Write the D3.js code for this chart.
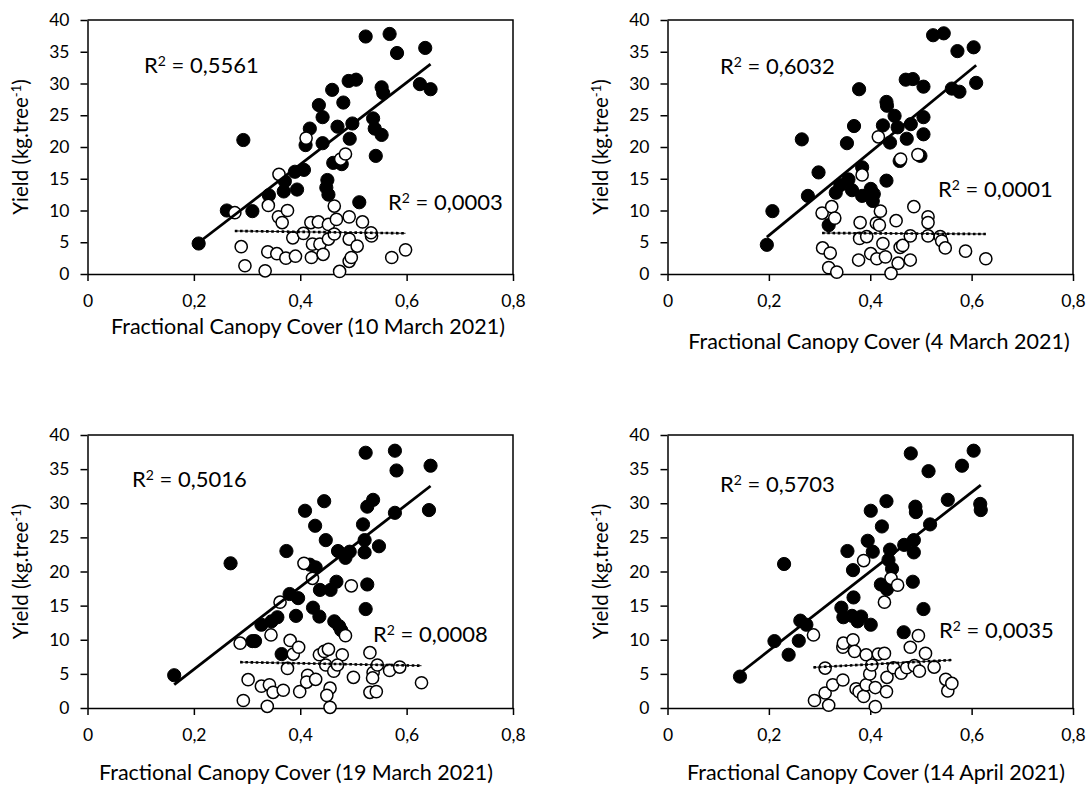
<!DOCTYPE html>
<html>
<head>
<meta charset="utf-8">
<script src="https://cdn.jsdelivr.net/npm/d3@7"></script>
<style>
  html, body { margin: 0; padding: 0; background: #fff; }
  svg { display: block; font-family: Lato, "Open Sans", sans-serif; }
</style>
</head>
<body>
<svg id="chart" width="1089" height="786"></svg>
<script>
// Yield (kg per tree) against fractional canopy cover on four image dates.
// Filled markers and open markers are two groups of trees; each group has a linear fit.

const xTicks = [0, 0.2, 0.4, 0.6, 0.8];
const yTicks = [0, 5, 10, 15, 20, 25, 30, 35, 40];

const dateLabels = ["10 March 2021", "4 March 2021", "19 March 2021", "14 April 2021"];
const r2Solid = ["0,5561", "0,6032", "0,5016", "0,5703"];
const r2Open = ["0,0003", "0,0001", "0,0008", "0,0035"];

// linear fits: [slope, intercept]
const fitSolid = [[64.4, -8.5], [65.5, -7.02], [60.4, -6.43], [58.0, -3.2]];
const fitOpen = [[-1.15, 7.1], [-0.5, 6.61], [-1.53, 7.16], [3.94, 4.82]];

// [canopy cover, yield]
const mar10Solid = [[0.209,4.8],[0.262,10.0],[0.293,21.1],[0.31,9.9],[0.341,12.4],[0.369,13.0],[0.371,14.6],[0.394,13.3],[0.39,16.1],[0.407,16.4],[0.41,20.3],[0.418,22.9],[0.435,26.6],[0.442,24.7],[0.442,20.6],[0.46,29.0],[0.451,14.8],[0.449,13.6],[0.453,12.5],[0.481,27.0],[0.47,23.2],[0.462,17.5],[0.478,17.3],[0.493,21.3],[0.498,23.7],[0.491,30.4],[0.505,30.6],[0.523,37.4],[0.568,37.8],[0.582,34.8],[0.635,35.6],[0.553,29.4],[0.556,28.5],[0.537,24.5],[0.54,22.9],[0.553,21.9],[0.542,18.6],[0.511,11.3],[0.625,29.9],[0.645,29.1]];
const mar10Open = [[0.277,9.65],[0.289,4.3],[0.296,1.3],[0.334,0.5],[0.339,3.5],[0.356,3.2],[0.373,2.5],[0.391,2.8],[0.34,10.8],[0.36,15.7],[0.359,9.0],[0.376,10.0],[0.366,8.1],[0.386,5.7],[0.406,6.4],[0.411,21.4],[0.42,8.1],[0.434,8.2],[0.453,7.8],[0.421,2.6],[0.423,4.7],[0.437,4.7],[0.443,3.1],[0.453,5.5],[0.464,6.3],[0.464,10.7],[0.468,8.6],[0.474,0.4],[0.492,2.0],[0.496,2.6],[0.492,5.5],[0.507,4.4],[0.492,9.0],[0.517,8.2],[0.534,6.0],[0.533,6.5],[0.572,2.6],[0.598,3.8],[0.476,18.1],[0.485,18.9]];

const mar04Solid = [[0.196,4.6],[0.207,9.9],[0.265,21.2],[0.277,12.3],[0.298,16.0],[0.318,7.7],[0.332,12.8],[0.341,14.0],[0.357,14.9],[0.364,13.2],[0.354,20.6],[0.368,23.3],[0.378,29.1],[0.384,16.8],[0.384,12.3],[0.401,13.4],[0.407,12.6],[0.405,11.5],[0.425,23.4],[0.432,14.7],[0.432,27.1],[0.433,26.5],[0.439,20.7],[0.448,24.9],[0.454,23.1],[0.458,17.8],[0.47,30.6],[0.484,30.7],[0.472,21.3],[0.48,23.6],[0.505,29.5],[0.505,24.7],[0.505,22.0],[0.499,18.6],[0.524,37.6],[0.545,37.9],[0.561,29.2],[0.576,28.7],[0.572,35.1],[0.604,35.7],[0.609,30.1]];
const mar04Open = [[0.305,9.6],[0.324,10.6],[0.33,8.8],[0.306,4.1],[0.321,3.3],[0.318,1.0],[0.334,0.3],[0.377,2.2],[0.38,8.1],[0.379,5.6],[0.384,15.6],[0.393,5.9],[0.401,3.2],[0.413,2.4],[0.412,8.0],[0.418,7.7],[0.42,9.9],[0.416,21.6],[0.425,4.8],[0.43,2.7],[0.441,0.1],[0.451,8.4],[0.455,1.7],[0.459,4.2],[0.464,4.5],[0.46,18.1],[0.479,2.2],[0.479,6.0],[0.486,10.6],[0.494,18.8],[0.514,9.0],[0.514,8.1],[0.514,6.0],[0.538,5.9],[0.541,5.2],[0.548,4.1],[0.588,3.6],[0.628,2.4]];

const mar19Solid = [[0.163,4.8],[0.269,21.2],[0.31,9.8],[0.315,9.8],[0.327,12.2],[0.346,12.7],[0.357,13.3],[0.365,7.9],[0.374,23.0],[0.38,16.7],[0.396,16.1],[0.392,13.5],[0.409,28.9],[0.418,21.0],[0.429,20.6],[0.424,14.7],[0.436,13.4],[0.428,26.7],[0.445,30.3],[0.448,24.6],[0.437,17.3],[0.457,17.3],[0.468,18.5],[0.464,12.7],[0.473,12.0],[0.477,11.4],[0.471,23.0],[0.485,22.0],[0.493,22.9],[0.518,26.9],[0.521,24.6],[0.521,22.8],[0.526,18.1],[0.523,14.5],[0.523,37.4],[0.526,29.5],[0.537,30.5],[0.548,23.7],[0.578,37.7],[0.581,34.8],[0.578,28.6],[0.645,35.5],[0.642,29.0]];
const mar19Open = [[0.287,9.5],[0.293,1.1],[0.302,4.15],[0.327,3.2],[0.338,0.25],[0.342,3.4],[0.349,2.3],[0.368,2.6],[0.345,10.7],[0.362,15.5],[0.376,5.8],[0.381,9.9],[0.387,7.9],[0.397,8.9],[0.399,2.4],[0.407,21.2],[0.414,4.8],[0.412,3.8],[0.423,19.0],[0.429,4.2],[0.436,7.8],[0.445,8.3],[0.453,8.6],[0.448,6.3],[0.463,5.4],[0.456,2.9],[0.45,1.85],[0.456,0.1],[0.479,7.8],[0.47,6.3],[0.485,10.6],[0.496,17.9],[0.5,4.5],[0.531,8.1],[0.537,5.2],[0.536,4.4],[0.545,6.3],[0.531,2.3],[0.543,2.4],[0.568,5.5],[0.587,6.0],[0.628,3.7]];

const apr14Solid = [[0.143,4.6],[0.23,21.1],[0.211,9.8],[0.239,7.8],[0.259,9.85],[0.262,12.8],[0.274,12.2],[0.343,14.7],[0.347,13.3],[0.355,23.0],[0.366,20.2],[0.367,16.2],[0.364,13.5],[0.375,12.7],[0.382,13.4],[0.401,12.2],[0.395,24.5],[0.405,22.9],[0.401,28.9],[0.423,26.6],[0.421,18.1],[0.433,17.4],[0.432,30.3],[0.439,23.2],[0.436,21.7],[0.443,20.4],[0.466,11.1],[0.467,23.9],[0.486,24.6],[0.486,22.8],[0.484,18.5],[0.48,37.3],[0.489,29.5],[0.49,28.7],[0.505,14.5],[0.518,26.9],[0.515,34.7],[0.553,30.5],[0.581,35.5],[0.604,37.7],[0.617,29.9],[0.618,29.0]];
const apr14Open = [[0.288,10.7],[0.29,1.1],[0.311,5.85],[0.311,2.2],[0.318,0.4],[0.326,3.4],[0.346,4.1],[0.346,8.9],[0.347,9.5],[0.366,10.0],[0.369,8.3],[0.372,2.8],[0.378,2.4],[0.387,21.6],[0.387,1.7],[0.392,7.8],[0.392,3.4],[0.399,5.0],[0.403,6.3],[0.41,3.0],[0.41,0.2],[0.416,7.9],[0.428,15.5],[0.432,2.4],[0.433,4.5],[0.428,8.0],[0.441,19.0],[0.446,5.9],[0.454,18.0],[0.461,5.1],[0.472,5.9],[0.479,8.9],[0.487,6.2],[0.495,10.6],[0.497,5.4],[0.509,8.0],[0.526,6.0],[0.549,4.2],[0.553,2.5],[0.561,3.6]];

const solidSets = [mar10Solid, mar04Solid, mar19Solid, apr14Solid];
const openSets = [mar10Open, mar04Open, mar19Open, apr14Open];

// panel geometry
const layout = [
  { x0: 87.5, x1: 513, yTop: 20, yBot: 274, titleX: 308, titleY: 334, yTitleX: 28,
    r2a: [144, 73], r2b: [388, 210] },
  { x0: 667.5, x1: 1073, yTop: 20, yBot: 274, titleX: 879, titleY: 349, yTitleX: 608,
    r2a: [720, 74], r2b: [938, 197] },
  { x0: 87.5, x1: 513, yTop: 435, yBot: 708, titleX: 296, titleY: 780, yTitleX: 28,
    r2a: [132, 487], r2b: [373, 642] },
  { x0: 667.5, x1: 1073, yTop: 435, yBot: 708, titleX: 876, titleY: 780, yTitleX: 608,
    r2a: [720, 492], r2b: [939, 638] }
];

const locale = d3.formatLocale({ decimal: ",", thousands: ".", grouping: [3], currency: ["", ""] });
const fmtX = d => d === 0 ? "0" : locale.format(".1f")(d);

const svg = d3.select("#chart");
const R = 6.6;

layout.forEach((L, i) => {
  const x = d3.scaleLinear().domain([0, 0.8]).range([L.x0, L.x1]);
  const y = d3.scaleLinear().domain([0, 40]).range([L.yBot, L.yTop]);
  const g = svg.append("g");

  // plot frame (top and right sides)
  g.append("path")
    .attr("d", `M${L.x0},${L.yTop}H${L.x1}V${L.yBot}`)
    .attr("fill", "none").attr("stroke", "#000").attr("stroke-width", 1.5);

  const xAxis = g.append("g").attr("transform", `translate(0,${L.yBot})`)
    .call(d3.axisBottom(x).tickValues(xTicks).tickFormat(fmtX).tickSize(7).tickPadding(14).tickSizeOuter(0));
  const yAxis = g.append("g").attr("transform", `translate(${L.x0},0)`)
    .call(d3.axisLeft(y).tickValues(yTicks).tickSize(7).tickPadding(11).tickSizeOuter(0));
  [xAxis, yAxis].forEach(a => {
    a.select(".domain").attr("stroke", "#000").attr("stroke-width", 1.5);
    a.selectAll(".tick line").attr("stroke", "#000").attr("stroke-width", 1.5);
    a.selectAll(".tick text").attr("fill", "#000").style("font-size", "17.5px").style("font-family", "Lato");
  });

  // markers
  g.append("g").selectAll("circle").data(solidSets[i]).join("circle")
    .attr("cx", d => x(d[0])).attr("cy", d => y(d[1])).attr("r", R)
    .attr("fill", "#000").attr("stroke", "#000").attr("stroke-width", 1);
  g.append("g").selectAll("circle").data(openSets[i]).join("circle")
    .attr("cx", d => x(d[0])).attr("cy", d => y(d[1])).attr("r", R - 0.5)
    .attr("fill", "#fff").attr("stroke", "#000").attr("stroke-width", 1.5);

  // fitted lines over the extent of each group
  const fitLine = (pts, f) => {
    const ext = d3.extent(pts, d => d[0]);
    return ext.map(v => [x(v), y(f[0] * v + f[1])]);
  };
  const line = d3.line();
  g.append("path").attr("d", line(fitLine(solidSets[i], fitSolid[i])))
    .attr("stroke", "#000").attr("stroke-width", 2.8).attr("fill", "none");
  const op = fitLine(openSets[i], fitOpen[i]);
  g.append("path").attr("d", line(op))
    .attr("stroke", "#000").attr("stroke-width", 0.9).attr("fill", "none");
  g.append("path").attr("d", line(op))
    .attr("stroke", "#000").attr("stroke-width", 2.6).attr("fill", "none")
    .attr("stroke-dasharray", "2.6,2.6");

  // R² labels
  const r2 = (pos, val) => {
    const t = g.append("text").attr("x", pos[0]).attr("y", pos[1])
      .style("font-size", "22px").style("font-family", "Lato").attr("fill", "#000");
    t.append("tspan").text("R");
    t.append("tspan").attr("dy", -7).style("font-size", "14px").text("2");
    t.append("tspan").attr("dy", 7).text(` = ${val}`);
  };
  r2(L.r2a, r2Solid[i]);
  r2(L.r2b, r2Open[i]);

  // axis titles
  g.append("text").attr("x", L.titleX).attr("y", L.titleY).attr("text-anchor", "middle")
    .style("font-size", "21.5px").attr("fill", "#000")
    .text(`Fractional Canopy Cover (${dateLabels[i]})`);
  const yt = g.append("text")
    .attr("transform", `translate(${L.yTitleX},${(L.yTop + L.yBot) / 2}) rotate(-90)`)
    .attr("text-anchor", "middle").style("font-size", "20.5px").attr("fill", "#000");
  yt.append("tspan").text("Yield (kg.tree");
  yt.append("tspan").attr("dy", -7).style("font-size", "13px").text("-1");
  yt.append("tspan").attr("dy", 7).text(")");
});
</script>
</body>
</html>
